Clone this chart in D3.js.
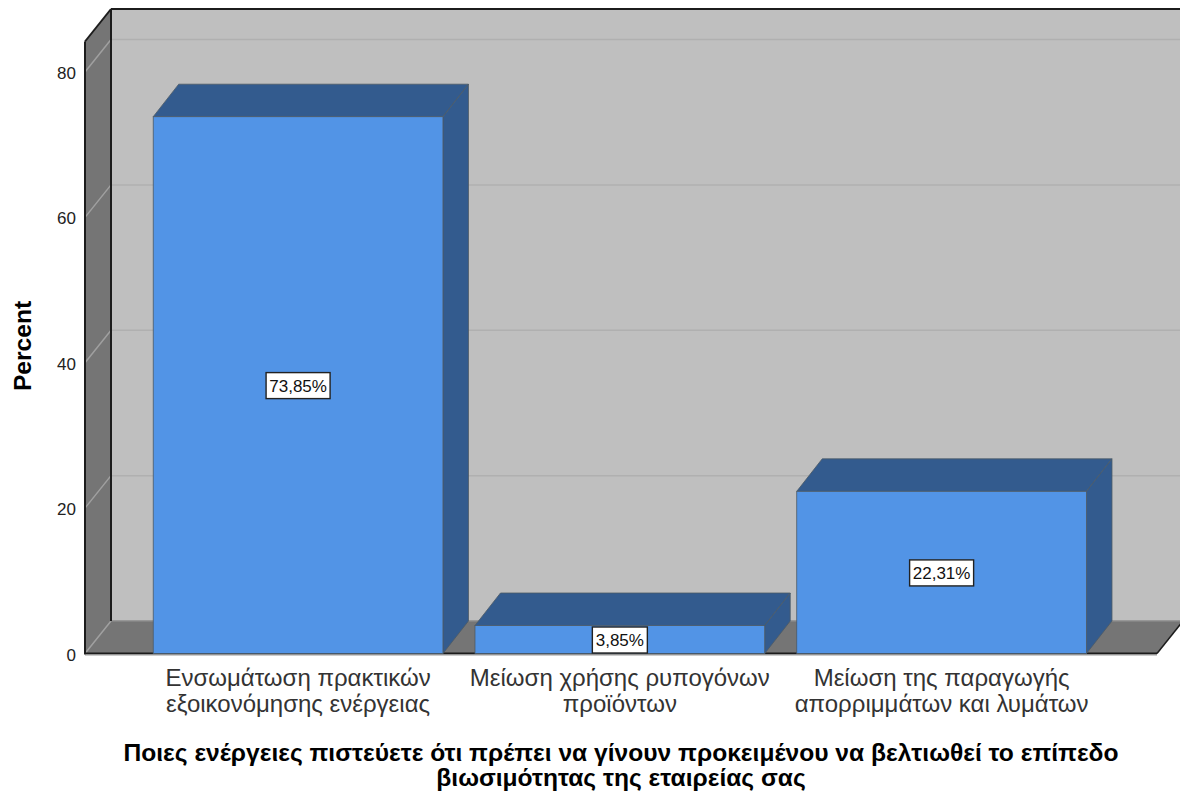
<!DOCTYPE html>
<html><head><meta charset="utf-8">
<script src="https://cdn.jsdelivr.net/npm/d3@7/dist/d3.min.js"></script>
<style>html,body{margin:0;padding:0;background:#fff}svg{display:block}text{font-family:"Liberation Sans",Arial,sans-serif}</style>
</head><body><svg id="c" width="1180" height="793"></svg>
<script>
const categories = [
  ["Ενσωμάτωση πρακτικών","εξοικονόμησης ενέργειας"],
  ["Μείωση χρήσης ρυπογόνων","προϊόντων"],
  ["Μείωση της παραγωγής","απορριμμάτων και λυμάτων"]
];
const percents = [73.85, 3.85, 22.31];
const barLabels = ["73,85%","3,85%","22,31%"];
const yTicks = [0,20,40,60,80];
const xTitle = ["Ποιες ενέργειες πιστεύετε ότι πρέπει να γίνουν προκειμένου να βελτιωθεί το επίπεδο","βιωσιμότητας της εταιρείας σας"];
const yTitle = "Percent";

const svg = d3.select("#c");
const y = d3.scaleLinear().domain([0,80]).range([653.5,72]);
const x = d3.scaleBand().domain(d3.range(categories.length)).range([121.2,1118.5]).paddingInner(0.0995).paddingOuter(0.0995);
const dx = 26, dy = -32.5, barDx = 25.5;
const xL = 85, xR = 1157, yTop = 41.5, yF = y(0);
const poly = (pts,fill,stroke,sw) => svg.append("polygon").attr("points",pts.map(p=>p.join(",")).join(" ")).attr("fill",fill).attr("stroke",stroke||"none").attr("stroke-width",sw||0);
const line = (a,b,c,w) => svg.append("line").attr("x1",a[0]).attr("y1",a[1]).attr("x2",b[0]).attr("y2",b[1]).attr("stroke",c).attr("stroke-width",w);

poly([[xL+dx,yTop+dy],[1180,yTop+dy],[1180,yF+dy],[xL+dx,yF+dy]],"#bfbfbf");
poly([[xL,yTop],[xL+dx,yTop+dy],[xL+dx,yF+dy],[xL,yF]],"#757575");
poly([[xL,yF],[xL+dx,yF+dy],[1183,yF+dy],[xR,yF]],"#757575");

yTicks.forEach(t=>{
  if(t>0) line([xL+dx,y(t)+dy],[1180,y(t)+dy],"#b0b0b0",1.5);
  line([xL,y(t)],[xL+dx,y(t)+dy],"#a0a0a0",1.5);
});
line([xL+dx,yF+dy],[1180,yF+dy],"#8a8a8a",1.5);

line([xL,yTop],[xL,yF+1],"#1c1c1c",2);
line([xL+dx,yTop+dy],[xL+dx,yF+dy],"#1c1c1c",2);
line([xL,yTop],[xL+dx,yTop+dy],"#1c1c1c",2);
line([xL+dx,yTop+dy],[1180,yTop+dy],"#1c1c1c",2);
line([xL,yF],[xR,yF],"#1c1c1c",2);
line([xL,yF+1.5],[xR,yF+1.5],"#9a9a9a",1);
line([xR,yF],[1183,yF+dy],"#1c1c1c",1.5);

const front="#5294e6", dark="#335b8e", edge="#4d5a66";
percents.forEach((v,i)=>{
  const x0=x(i), x1=x0+x.bandwidth(), yt=y(v);
  poly([[x0,yt],[x0+barDx,yt+dy],[x1+barDx,yt+dy],[x1,yt]],dark,edge,.8);
  poly([[x1,yt],[x1+barDx,yt+dy],[x1+barDx,yF+dy],[x1,yF]],dark,edge,.8);
  svg.append("rect").attr("x",x0).attr("y",yt).attr("width",x.bandwidth()).attr("height",yF-yt).attr("fill",front).attr("stroke",edge).attr("stroke-width",.8);
});

percents.forEach((v,i)=>{
  const cx=x(i)+x.bandwidth()/2, cy=(y(v)+yF)/2+0.5;
  const w=barLabels[i].length>5?64:55;
  svg.append("rect").attr("x",cx-w/2).attr("y",cy-13).attr("width",w).attr("height",26).attr("fill","#fff").attr("stroke","#222").attr("stroke-width",1.4);
  svg.append("text").attr("x",cx).attr("y",cy+6).attr("text-anchor","middle").attr("font-size",17).attr("fill","#111").text(barLabels[i]);
});

yTicks.forEach(t=>{
  svg.append("text").attr("x",76).attr("y",y(t)+7).attr("text-anchor","end").attr("font-size",17).attr("fill","#222").text(t);
});
svg.append("text").attr("transform",`translate(31,346) rotate(-90)`).attr("text-anchor","middle").attr("font-size",24.6).attr("font-weight","bold").attr("fill","#000").text(yTitle);

categories.forEach((c,i)=>{
  const cx=x(i)+x.bandwidth()/2;
  c.forEach((s,j)=>svg.append("text").attr("x",cx).attr("y",686+j*26).attr("text-anchor","middle").attr("font-size",24).attr("fill","#333").text(s));
});
xTitle.forEach((s,j)=>svg.append("text").attr("x",621).attr("y",761+j*25).attr("text-anchor","middle").attr("font-size",24.6).attr("font-weight","bold").attr("fill","#000").text(s));
</script></body></html>
